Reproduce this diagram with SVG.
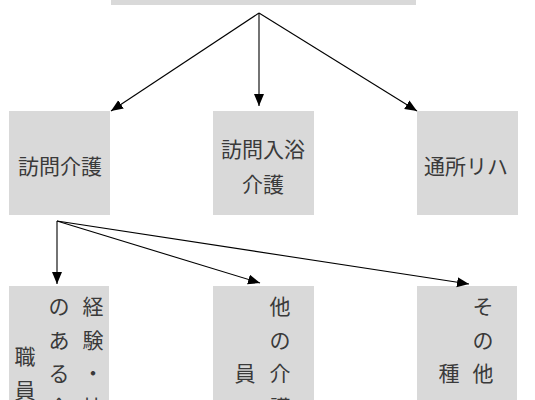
<svg xmlns="http://www.w3.org/2000/svg" width="535" height="400" viewBox="0 0 535 400">
<defs>
<style>
.box{fill:#d9d9d9;}
.t{font-family:"Noto Sans CJK JP","Noto Sans",sans-serif;font-size:21px;fill:#3a3a3a;text-anchor:middle;dominant-baseline:central;}
.c{stroke:#000;stroke-width:1.1;fill:none;marker-end:url(#ah);}
</style>
<marker id="ah" markerUnits="userSpaceOnUse" markerWidth="13" markerHeight="11" refX="12" refY="5" orient="auto" viewBox="0 0 13 11">
<path d="M0,0 L12,5 L0,10 z" fill="#000"/>
</marker>
</defs>
<g id="top"><rect class="box" x="111" y="-20" width="305" height="25"/></g>
<g id="n-houmon-kaigo"><rect class="box" x="9" y="111" width="101" height="104"/><text class="t" x="60" y="165">訪問介護</text></g>
<g id="n-houmon-nyuyoku"><rect class="box" x="213" y="111" width="101" height="104"/><text class="t"><tspan x="263" y="148">訪問入浴</tspan><tspan x="263" y="183">介護</tspan></text></g>
<g id="n-tsusho"><rect class="box" x="417" y="111" width="101" height="104"/><text class="t" x="466" y="165">通所リハ</text></g>
<g id="n-keiken"><rect class="box" x="9" y="286" width="100" height="140"/><text class="t"><tspan x="93 93 93 93 93" y="305 338.5 372 405.5 439">経験・技術</tspan><tspan x="59 59 59 59 59" y="305 338.5 372 405.5 439">のある介護</tspan><tspan x="25 25" y="355 388.5">職員</tspan></text></g>
<g id="n-sonota-kaigo"><rect class="box" x="213" y="286" width="101" height="140"/><text class="t"><tspan x="280 280 280 280 280" y="305 338.5 372 405.5 439">他の介護職</tspan><tspan x="245" y="372">員</tspan></text></g>
<g id="n-sonota-shokushu"><rect class="box" x="417" y="286" width="100" height="140"/><text class="t"><tspan x="483 483 483 483 483" y="305 338.5 372 405.5 439">その他の職</tspan><tspan x="449" y="372">種</tspan></text></g>
<g id="connectors">
<line class="c" x1="259" y1="13" x2="111" y2="111"/>
<line class="c" x1="259" y1="13" x2="259" y2="106"/>
<line class="c" x1="259" y1="13" x2="417" y2="111"/>
<line class="c" x1="57" y1="221" x2="57" y2="284"/>
<line class="c" x1="57" y1="221" x2="260" y2="283"/>
<line class="c" x1="57" y1="221" x2="469" y2="284"/>
</g>
</svg>
